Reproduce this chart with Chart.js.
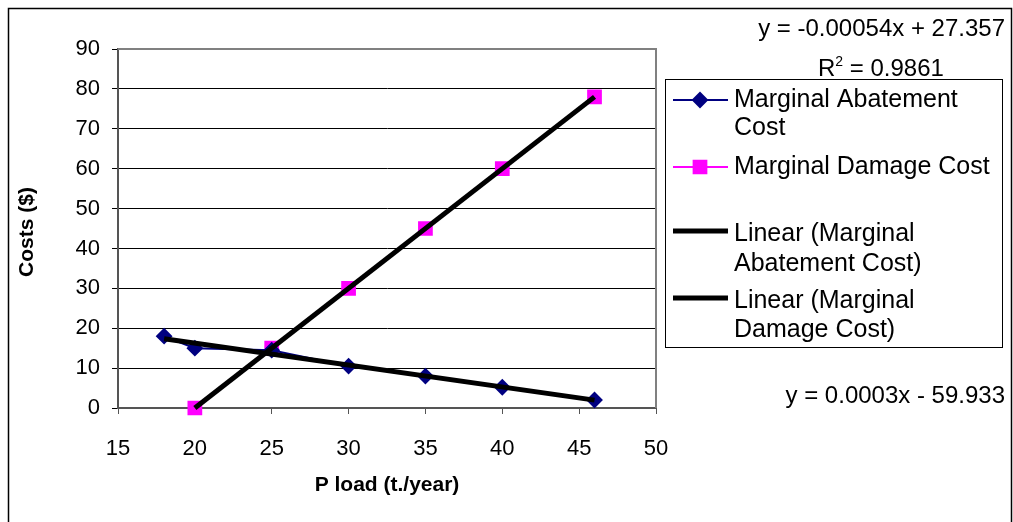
<!DOCTYPE html>
<html>
<head>
<meta charset="utf-8">
<script src="https://cdn.jsdelivr.net/npm/chart.js@4/dist/chart.umd.min.js"></script>
<style>
  body { margin: 0; background: #fff; }
  #wrap { width: 1013px; height: 522px; }
</style>
</head>
<body>
<div id="wrap"><canvas id="myChart" width="1013" height="522"></canvas></div>
<script>
// data
const loadAbatement = [18, 20, 25, 30, 35, 40, 46];
const costAbatement = [18, 15, 14.5, 10.5, 8, 5.2, 2];
const loadDamage = [20, 25, 30, 35, 40, 46];
const costDamage = [0, 15, 30, 45, 60, 78];
const seriesNames = ['Marginal Abatement Cost', 'Marginal Damage Cost'];
const legendLines = [
  ['Marginal Abatement', 'Cost'],
  ['Marginal Damage Cost'],
  ['Linear (Marginal', 'Abatement Cost)'],
  ['Linear (Marginal', 'Damage Cost)']
];
const equations = ['y = -0.00054x + 27.357', 'R', ' = 0.9861', 'y = 0.0003x - 59.933'];
const xTitle = 'P load (t./year)';
const yTitle = 'Costs ($)';

const FONT = '"Liberation Sans", Arial, sans-serif';

// least squares line through a series, drawn between its first and last x
function trend(xs, ys) {
  const n = xs.length;
  const mx = xs.reduce((a, b) => a + b, 0) / n;
  const my = ys.reduce((a, b) => a + b, 0) / n;
  let sxy = 0, sxx = 0;
  xs.forEach((x, i) => { sxy += (x - mx) * (ys[i] - my); sxx += (x - mx) * (x - mx); });
  const m = sxy / sxx;
  const b = my - m * mx;
  const x0 = Math.min(...xs), x1 = Math.max(...xs);
  return [{ x: x0, y: m * x0 + b }, { x: x1, y: m * x1 + b }];
}

const toPoints = (xs, ys) => xs.map((x, i) => ({ x: x, y: ys[i] }));

// frame, plot border, axis titles, legend and equations
const extras = {
  id: 'extras',
  beforeDatasetsDraw(chart) {
    // plot area top / right border (under the marks)
    const ctx = chart.ctx;
    const a = chart.chartArea;
    ctx.save();
    ctx.strokeStyle = '#808080';
    ctx.lineWidth = 2;
    ctx.beginPath();
    ctx.moveTo(a.left, a.top);
    ctx.lineTo(a.right, a.top);
    ctx.lineTo(a.right, a.bottom);
    ctx.stroke();
    ctx.restore();
  },
  afterDraw(chart) {
    const ctx = chart.ctx;
    ctx.save();

    // outer frame
    ctx.strokeStyle = '#000';
    ctx.lineWidth = 1.5;
    ctx.beginPath();
    ctx.moveTo(8.5, 530);
    ctx.lineTo(8.5, 8.5);
    ctx.lineTo(1011.5, 8.5);
    ctx.lineTo(1011.5, 530);
    ctx.stroke();

    // axis titles
    ctx.fillStyle = '#000';
    ctx.font = 'bold 21px ' + FONT;
    ctx.textAlign = 'center';
    ctx.textBaseline = 'middle';
    ctx.fillText(xTitle, 387, 485);
    ctx.save();
    ctx.translate(27, 232);
    ctx.rotate(-Math.PI / 2);
    ctx.fillText(yTitle, 0, 0);
    ctx.restore();

    // equations
    ctx.font = '24px ' + FONT;
    ctx.textBaseline = 'alphabetic';
    ctx.textAlign = 'right';
    ctx.fillText(equations[0], 1005, 36);
    ctx.fillText(equations[3], 1005, 403);
    ctx.textAlign = 'left';
    ctx.fillText(equations[1], 818, 76);
    const rw = ctx.measureText(equations[1]).width;
    ctx.font = '14px ' + FONT;
    ctx.fillText('2', 818 + rw, 66);
    const sw = ctx.measureText('2').width;
    ctx.font = '24px ' + FONT;
    ctx.fillText(equations[2], 818 + rw + sw, 76);

    // legend box
    ctx.strokeStyle = '#000';
    ctx.lineWidth = 1;
    ctx.fillStyle = '#fff';
    ctx.fillRect(665.5, 79.5, 337, 268);
    ctx.strokeRect(665.5, 79.5, 337, 268);

    const rows = [
      { y: 100, textY: [100, 128] },
      { y: 167, textY: [167] },
      { y: 231, textY: [234, 264] },
      { y: 298, textY: [301, 330] }
    ];
    chart.data.datasets.forEach(ds => {
      const r = rows[ds.legendIndex];
      ctx.strokeStyle = ds.borderColor;
      ctx.lineWidth = ds.borderWidth;
      ctx.beginPath();
      ctx.moveTo(673, r.y);
      ctx.lineTo(728, r.y);
      ctx.stroke();
      if (ds.pointRadius > 0) {
        Chart.helpers.drawPoint(ctx, {
          pointStyle: ds.pointStyle,
          radius: ds.pointRadius,
          borderWidth: 1,
          rotation: 0
        }, 700, r.y);
        ctx.fillStyle = ds.backgroundColor;
        ctx.strokeStyle = ds.pointBorderColor;
        ctx.lineWidth = 1;
        ctx.fill();
        ctx.stroke();
      }
      ctx.fillStyle = '#000';
      ctx.font = '25px ' + FONT;
      ctx.textAlign = 'left';
      ctx.textBaseline = 'middle';
      legendLines[ds.legendIndex].forEach((t, k) => ctx.fillText(t, 734, r.textY[k]));
    });

    ctx.restore();
  }
};

new Chart(document.getElementById('myChart').getContext('2d'), {
  type: 'scatter',
  data: {
    datasets: [
      {
        label: 'Linear (' + seriesNames[0] + ')',
        legendIndex: 2,
        data: trend(loadAbatement, costAbatement),
        showLine: true,
        borderColor: '#000',
        borderWidth: 5,
        pointRadius: 0,
        clip: false,
        order: 0
      },
      {
        label: 'Linear (' + seriesNames[1] + ')',
        legendIndex: 3,
        data: trend(loadDamage, costDamage),
        showLine: true,
        borderColor: '#000',
        borderWidth: 5,
        pointRadius: 0,
        clip: false,
        order: 0
      },
      {
        label: seriesNames[0],
        legendIndex: 0,
        data: toPoints(loadAbatement, costAbatement),
        showLine: true,
        borderColor: '#000080',
        borderWidth: 2,
        backgroundColor: '#000080',
        pointBorderColor: '#000080',
        pointStyle: 'rectRot',
        pointRadius: 7,
        clip: false,
        order: 1
      },
      {
        label: seriesNames[1],
        legendIndex: 1,
        data: toPoints(loadDamage, costDamage),
        showLine: true,
        borderColor: '#ff00ff',
        borderWidth: 2,
        backgroundColor: '#ff00ff',
        pointBorderColor: '#ff00ff',
        pointStyle: 'rect',
        pointRadius: 9,
        clip: false,
        order: 1
      }
    ]
  },
  options: {
    responsive: false,
    animation: false,
    layout: { padding: { top: 49, right: 357, left: 0, bottom: 0 } },
    plugins: {
      legend: { display: false },
      tooltip: { enabled: false }
    },
    scales: {
      x: {
        type: 'linear',
        min: 15,
        max: 50,
        ticks: { stepSize: 5, color: '#000', padding: 22, font: { family: FONT, size: 22 } },
        grid: { drawOnChartArea: false, tickLength: 6, color: '#555' },
        border: { color: '#555', width: 2 },
        afterFit: s => { s.height = 114; }
      },
      y: {
        min: 0,
        max: 90,
        ticks: { stepSize: 10, color: '#000', padding: 12, font: { family: FONT, size: 22 } },
        grid: { color: '#000', tickLength: 6, lineWidth: 1 },
        border: { color: '#555', width: 2 },
        afterFit: s => { s.width = 118; }
      }
    }
  },
  plugins: [extras]
});
</script>
</body>
</html>
